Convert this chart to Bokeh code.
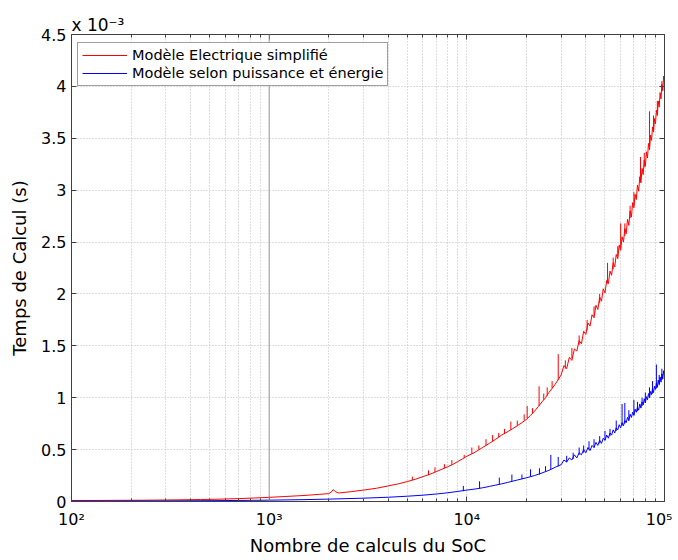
from bokeh.plotting import figure
from bokeh.models import (Range1d, LogAxis, LinearAxis, FixedTicker,
                          Legend, LegendItem, Span)
from bokeh.embed import file_html
from bokeh.resources import INLINE

# ---- data (times in units of 1e-3 s) ----
red_n = [100, 130, 170, 220, 280, 350, 450, 550, 700, 850, 1000, 1200, 1500, 1800,
         2000, 2060, 2110, 2160, 2250, 2600, 3000, 3500, 4000, 4500, 5000, 5500, 6000,
         6500, 7000, 7500, 8000, 8500, 9000, 9500, 10000, 11000, 12000, 13000, 14000,
         15000, 16000, 17000, 18000, 19000, 20000, 21000, 22000, 23000, 24000, 25000,
         26000, 27000, 28000, 29000, 30000,
         31000, 32000, 33000, 34000, 35000, 36000, 37000, 38000, 39000, 40000,
         41000, 42000, 43000, 44000, 45000, 46000, 47000, 48000, 49000, 50000,
         51000, 52000, 53000, 54000, 55000, 56000, 57000, 58000, 59000, 60000,
         61000, 62000, 63000, 64000, 65000, 66000, 67000, 68000, 69000, 70000,
         71000, 72000, 73000, 74000, 75000, 76000, 77000, 78000, 79000, 80000,
         81000, 82000, 83000, 84000, 85000, 86000, 87000, 88000, 89000, 90000,
         91000, 92000, 93000, 94000, 95000, 96000, 97000, 98000, 99000, 100000]
red_t = [0.010, 0.010, 0.011, 0.012, 0.014, 0.016, 0.019, 0.022, 0.028, 0.034, 0.040,
         0.048, 0.058, 0.069, 0.076, 0.090, 0.115, 0.095, 0.082, 0.095, 0.110, 0.128,
         0.150, 0.170, 0.192, 0.215, 0.240, 0.262, 0.288, 0.312, 0.335, 0.358, 0.385,
         0.410, 0.436, 0.475, 0.52, 0.56, 0.60, 0.64, 0.67, 0.70, 0.73, 0.76, 0.79,
         0.83, 0.87, 0.915, 0.96, 1.00, 1.05, 1.09, 1.13, 1.175, 1.22,
         1.31, 1.28, 1.39, 1.36, 1.47, 1.45, 1.55, 1.52, 1.64, 1.61,
         1.72, 1.69, 1.80, 1.77, 1.89, 1.85, 1.97, 1.93, 2.05, 2.01,
         2.13, 2.10, 2.22, 2.18, 2.30, 2.26, 2.38, 2.34, 2.47, 2.42,
         2.55, 2.50, 2.63, 2.58, 2.72, 2.66, 2.80, 2.74, 2.88, 2.83,
         2.96, 2.91, 3.05, 2.99, 3.13, 3.07, 3.21, 3.15, 3.29, 3.23,
         3.37, 3.31, 3.45, 3.39, 3.53, 3.48, 3.61, 3.56, 3.69, 3.64,
         3.77, 3.72, 3.86, 3.80, 3.94, 3.88, 4.02, 3.96, 4.10, 4.05]

red_spike_n = [5300, 6400, 6900, 7700, 8400, 9700, 10600, 11500, 12500, 13500, 14500,
               15500, 16700, 18000, 19500, 20200, 21500, 23200, 24500, 25500, 27000,
               29000, 31500, 34000, 37000, 40600, 44000, 47000, 51500, 55000, 58000,
               60000, 63000, 67000, 70000, 75600, 79000, 84000, 88000, 92000, 97000]
red_spike_lo = [0.205, 0.255, 0.283, 0.32, 0.354, 0.42, 0.46, 0.50, 0.54, 0.58, 0.62,
                0.65, 0.69, 0.73, 0.78, 0.80, 0.85, 0.92, 0.98, 1.02, 1.09,
                1.17, 1.28, 1.38, 1.51, 1.65, 1.79, 1.91, 2.10, 2.24, 2.36,
                2.44, 2.56, 2.73, 2.85, 3.08, 3.22, 3.42, 3.58, 3.74, 3.95]
red_spike_hi = [0.24, 0.30, 0.33, 0.36, 0.40, 0.45, 0.52, 0.54, 0.60, 0.64, 0.66,
                0.70, 0.77, 0.78, 0.84, 0.92, 0.90, 1.11, 1.04, 1.10, 1.16,
                1.42, 1.36, 1.48, 1.60, 1.75, 1.88, 2.00, 2.30, 2.35, 2.46,
                2.68, 2.68, 2.85, 2.98, 3.32, 3.36, 3.76, 3.72, 3.86, 4.05]

blue_n = [100, 150, 200, 300, 500, 700, 1000, 1500, 2000, 3000, 4000, 5000, 6000, 7000,
          8000, 9000, 10000, 11000, 12000, 13000, 14000, 15000, 16000, 17000, 18000,
          19000, 20000, 22000, 24000, 26000, 28000, 30000,
          31000, 32000, 33000, 34000, 35000, 36000, 37000, 38000, 39000, 40000,
          41000, 42000, 43000, 44000, 45000, 46000, 47000, 48000, 49000, 50000,
          51000, 52000, 53000, 54000, 55000, 56000, 57000, 58000, 59000, 60000,
          61000, 62000, 63000, 64000, 65000, 66000, 67000, 68000, 69000, 70000,
          71000, 72000, 73000, 74000, 75000, 76000, 77000, 78000, 79000, 80000,
          81000, 82000, 83000, 84000, 85000, 86000, 87000, 88000, 89000, 90000,
          91000, 92000, 93000, 94000, 95000, 96000, 97000, 98000, 99000, 100000]
blue_t = [0.005, 0.005, 0.006, 0.006, 0.008, 0.010, 0.013, 0.018, 0.023, 0.032, 0.041,
          0.051, 0.061, 0.072, 0.084, 0.097, 0.110, 0.120, 0.132, 0.145, 0.158, 0.170,
          0.183, 0.195, 0.207, 0.218, 0.228, 0.25, 0.275, 0.30, 0.33, 0.355,
          0.40, 0.38, 0.42, 0.40, 0.45, 0.42, 0.47, 0.45, 0.50, 0.47,
          0.52, 0.49, 0.54, 0.52, 0.57, 0.54, 0.59, 0.56, 0.61, 0.59,
          0.64, 0.61, 0.66, 0.64, 0.69, 0.66, 0.71, 0.69, 0.74, 0.71,
          0.76, 0.73, 0.78, 0.76, 0.81, 0.78, 0.84, 0.81, 0.86, 0.83,
          0.89, 0.86, 0.91, 0.88, 0.94, 0.90, 0.96, 0.93, 0.99, 0.95,
          1.01, 0.98, 1.04, 1.00, 1.06, 1.03, 1.09, 1.05, 1.11, 1.08,
          1.14, 1.10, 1.17, 1.13, 1.20, 1.15, 1.23, 1.18, 1.26, 1.21]

blue_spike_n = [9600, 11600, 14600, 16900, 19000, 21000, 23300, 25000, 26600, 29000,
                32000, 34500, 37000, 39000, 41500, 44000, 47000, 50000, 53000, 57000,
                61000, 63000, 66000, 70000, 73000, 77000, 80000, 84000, 87000, 91000,
                94000, 97000, 100000]
blue_spike_lo = [0.10, 0.125, 0.165, 0.19, 0.215, 0.24, 0.26, 0.29, 0.31, 0.34,
                 0.38, 0.41, 0.45, 0.47, 0.50, 0.52, 0.56, 0.59, 0.63, 0.68,
                 0.73, 0.75, 0.78, 0.83, 0.87, 0.92, 0.95, 1.00, 1.04, 1.09,
                 1.12, 1.17, 1.21]
blue_spike_hi = [0.15, 0.195, 0.23, 0.26, 0.26, 0.31, 0.32, 0.34, 0.45, 0.43,
                 0.44, 0.47, 0.52, 0.54, 0.58, 0.60, 0.63, 0.68, 0.70, 0.78,
                 0.94, 0.95, 0.88, 0.98, 0.96, 1.00, 1.05, 1.10, 1.16, 1.32,
                 1.22, 1.28, 1.37]

x_ticks = [100, 1000, 10000, 100000]
x_tick_labels = ["10\u00b2", "10\u00b3", "10\u2074", "10\u2075"]
x_minor = [m * 10 ** d for d in (2, 3, 4) for m in range(2, 10)]
y_ticks = [0, 0.5, 1, 1.5, 2, 2.5, 3, 3.5, 4, 4.5]
y_tick_labels = ["0", "0.5", "1", "1.5", "2", "2.5", "3", "3.5", "4", "4.5"]
y_multiplier = "x 10\u207b\u00b3"

FONT = "DejaVu Sans"
AX = "#404040"
GRID = "#bdbdbd"

p = figure(width=672, height=558, x_axis_type="log",
           x_range=Range1d(100, 100000), y_range=Range1d(0, 4.5),
           output_backend="svg", toolbar_location=None,
           min_border_left=71, min_border_right=8, min_border_top=34,
           min_border_bottom=56)
p.outline_line_color = AX
p.background_fill_color = "white"

xt = FixedTicker(ticks=x_ticks, minor_ticks=x_minor)
yt = FixedTicker(ticks=y_ticks)

xa = p.xaxis[0]
ya = p.yaxis[0]
xa.ticker = xt
xa.major_label_overrides = dict(zip(x_ticks, x_tick_labels))
ya.ticker = yt
ya.major_label_overrides = dict(zip(y_ticks, y_tick_labels))

for ax in (xa, ya):
    ax.axis_line_color = AX
    ax.major_tick_line_color = AX
    ax.minor_tick_line_color = AX
    ax.major_tick_in = 5
    ax.major_tick_out = 0
    ax.minor_tick_in = 3
    ax.minor_tick_out = 0
    ax.major_label_text_font = FONT
    ax.major_label_text_font_size = "16px"
    ax.major_label_text_color = "black"
    ax.axis_label_text_font = FONT
    ax.axis_label_text_font_size = "18px"
    ax.axis_label_text_font_style = "normal"
    ax.axis_label_text_color = "black"

xa.axis_label = "Nombre de calculs du SoC"
ya.axis_label = "Temps de Calcul (s)"
xa.major_label_standoff = 8
ya.major_label_standoff = 5
xa.axis_label_standoff = 3
ya.axis_label_standoff = 8
ya.minor_tick_line_color = None

# grids
p.xgrid.ticker = xt
p.xgrid.grid_line_color = GRID
p.xgrid.grid_line_dash = "1 2"
p.xgrid.minor_grid_line_color = GRID
p.xgrid.minor_grid_line_dash = "1 2"
p.ygrid.ticker = yt
p.ygrid.grid_line_color = GRID
p.ygrid.grid_line_dash = "1 2"

# top / right axes: inward ticks only
top = LogAxis(ticker=xt, major_label_text_font_size="2px", major_label_text_color=None,
              major_label_standoff=0, axis_line_color=AX, major_tick_line_color=AX,
              minor_tick_line_color=AX, major_tick_in=5, major_tick_out=0,
              minor_tick_in=3, minor_tick_out=0)
right = LinearAxis(ticker=yt, major_label_text_font_size="2px", major_label_text_color=None,
                   major_label_standoff=0, axis_line_color=AX, major_tick_line_color=AX,
                   minor_tick_line_color=None, major_tick_in=5, major_tick_out=0)
p.add_layout(top, "above")
p.add_layout(right, "right")

# exponent multiplier of the y axis
p.title.text = y_multiplier
p.title.align = "left"
p.title.offset = 0
p.title.standoff = 0
p.title.text_font = FONT
p.title.text_font_size = "17px"
p.title.text_font_style = "normal"
p.title.text_color = "black"

p.add_layout(Span(location=1000, dimension="height", line_color="#9a9a9a", line_width=1))

r_red = p.line(red_n, red_t, line_color="#ff0000", line_width=1)
p.segment(x0=red_spike_n, y0=red_spike_lo, x1=red_spike_n, y1=red_spike_hi,
          line_color="#ff0000", line_width=1)
r_blue = p.line(blue_n, blue_t, line_color="#0000ff", line_width=1)
p.segment(x0=blue_spike_n, y0=blue_spike_lo, x1=blue_spike_n, y1=blue_spike_hi,
          line_color="#0000ff", line_width=1)

legend = Legend(items=[LegendItem(label="Modèle Electrique simplifié", renderers=[r_red]),
                       LegendItem(label="Modèle selon puissance et énergie", renderers=[r_blue])],
                location=(6, 415))
legend.margin = 0
legend.padding = 4
legend.spacing = 2
legend.glyph_width = 45
legend.glyph_height = 16
legend.label_height = 16
legend.label_standoff = 5
legend.label_text_font = FONT
legend.label_text_font_size = "14.5px"
legend.label_text_color = "black"
legend.border_line_color = AX
legend.border_line_width = 1
legend.background_fill_color = "white"
legend.background_fill_alpha = 1
p.add_layout(legend)

open("out.html", "w").write(file_html(p, INLINE))
